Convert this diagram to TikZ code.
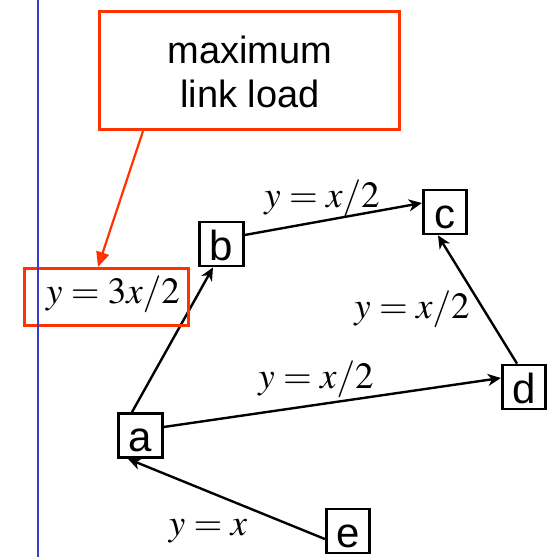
\documentclass[tikz,border=0pt]{standalone}
\usepackage{mathptmx}
\usepackage{fontspec}
\newfontfamily\arialf{Liberation Sans}
\usetikzlibrary{arrows.meta}
\definecolor{redo}{RGB}{255,51,0}
\definecolor{bluel}{RGB}{60,60,210}
\begin{document}
\begin{tikzpicture}[x=1pt,y=-1pt,
  vbox/.style={draw=black, line width=2.8pt, minimum width=43.5pt, minimum height=43.5pt,
    inner sep=0pt, text height=38pt, text depth=6pt, font=\arialf\fontsize{42}{42}\selectfont},
  lab/.style={inner sep=0pt, anchor=base, font=\fontsize{37}{42}\selectfont},
  edge/.style={draw=black, line width=2.4pt, -{Stealth[length=13pt,width=12pt,inset=4pt]}},
  redbox/.style={draw=redo, line width=3pt, inner sep=0pt},
  redarrow/.style={draw=redo, line width=2.2pt, -{Triangle[length=15pt,width=13pt]}},
  bluline/.style={draw=bluel, line width=2.8pt}]
\useasboundingbox (0,0) rectangle (548,558);
% nodes
\node[vbox] (a) at (140.5,435.5) {a};
\node[vbox] (b) at (221.5,244) {b};
\node[vbox] (c) at (445,212) {c};
\node[vbox] (d) at (524,387) {d};
\node[vbox] (e) at (348,531) {e};
% edges
\draw[edge] ([xshift=-8.5pt]a.north) -- ([xshift=-8.5pt]b.south);
\draw[edge] ([yshift=9pt]b.east) -- ([yshift=9pt]c.west);
\draw[edge] ([xshift=-7pt]d.north) -- ([xshift=-7pt]c.south);
\draw[edge] ([yshift=8.5pt]a.east) -- ([yshift=9pt]d.west);
\draw[edge] ([yshift=-8pt]e.west) -- ([xshift=-12.5pt]a.south);
% labels
\node[lab] (lbc) at (322,207) {$y=x/2$};
\node[lab] (ldc) at (412,318) {$y=x/2$};
\node[lab] (lad) at (316,388) {$y=x/2$};
\node[lab] (lea) at (208,535) {$y=x$};
% callout
\node[redbox, minimum width=300pt, minimum height=118pt] (loadbox) at (249.5,70.5) {};
\node[inner sep=0pt, anchor=base, font=\arialf\fontsize{38}{44}\selectfont] (t1) at (250,63) {maximum};
\node[inner sep=0pt, anchor=base, font=\arialf\fontsize{38}{44}\selectfont] (t2) at (250,107) {link load};
\node[redbox, minimum width=164pt, minimum height=57pt] (maxbox) at (106.5,297) {};
\node[lab] (maxlab) at (113,303) {$y=3x/2$};
\draw[redarrow] ([xshift=-106.5pt]loadbox.south) -- ([xshift=-8.5pt]maxbox.north);
% blue line
\coordinate (bt) at (38,0);
\coordinate (bb) at (38,557);
\draw[bluline] (bt) -- (bb);
\end{tikzpicture}
\end{document}
